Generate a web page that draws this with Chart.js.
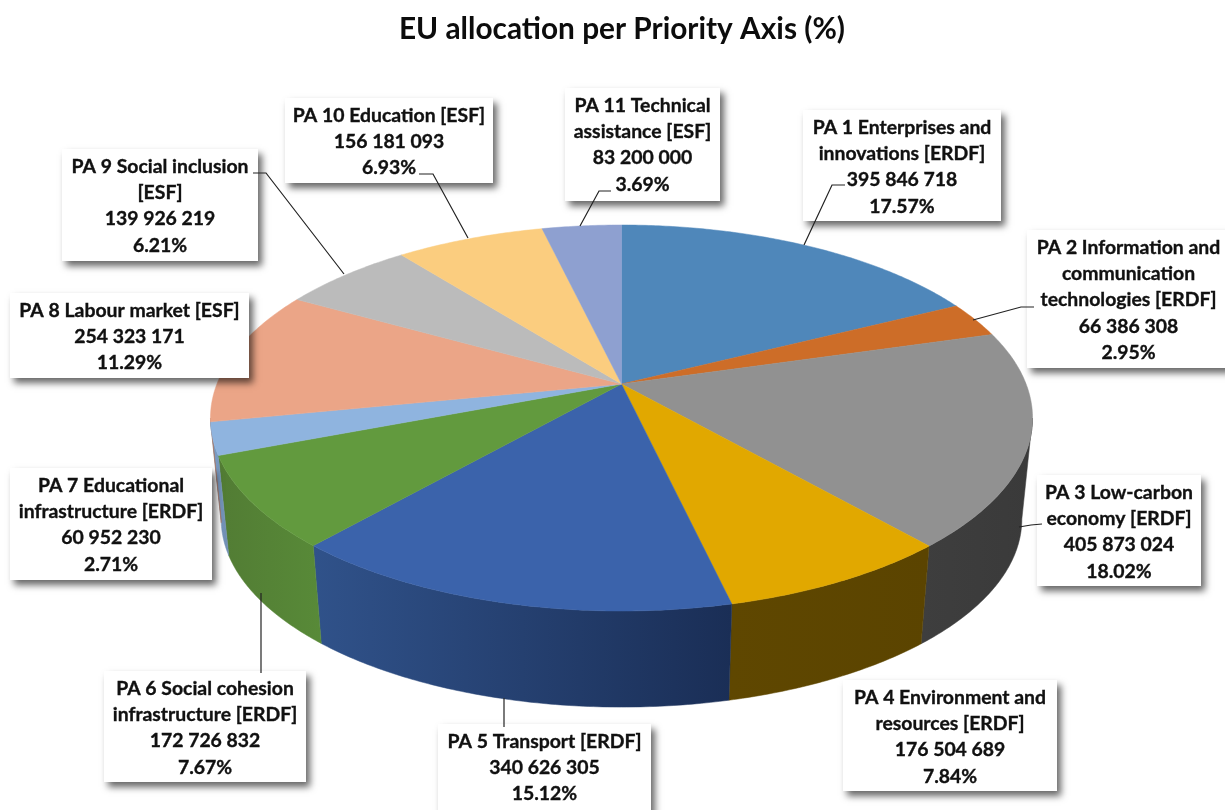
<!DOCTYPE html>
<html>
<head>
<meta charset="utf-8">
<title>EU allocation per Priority Axis</title>
<script src="https://cdn.jsdelivr.net/npm/chart.js@4.4.0/dist/chart.umd.min.js"></script>
<style>
  html, body { margin: 0; padding: 0; background: #fff; }
  canvas { display: block; }
</style>
</head>
<body>
<canvas id="pie" width="1225" height="810"></canvas>
<script>
'use strict';

const CHART_TITLE = 'EU allocation per Priority Axis (%)';

// Data
const categories = [
  'PA 1 Enterprises and innovations [ERDF]',
  'PA 2 Information and communication technologies [ERDF]',
  'PA 3 Low-carbon economy [ERDF]',
  'PA 4 Environment and resources [ERDF]',
  'PA 5 Transport [ERDF]',
  'PA 6 Social cohesion infrastructure [ERDF]',
  'PA 7 Educational infrastructure [ERDF]',
  'PA 8 Labour market [ESF]',
  'PA 9 Social inclusion [ESF]',
  'PA 10 Education [ESF]',
  'PA 11 Technical assistance [ESF]',
];
const amounts = [395846718, 66386308, 405873024, 176504689, 340626305, 172726832, 60952230, 254323171, 139926219, 156181093, 83200000];
const percents = ['17.57%', '2.95%', '18.02%', '7.84%', '15.12%', '7.67%', '2.71%', '11.29%', '6.21%', '6.93%', '3.69%'];

// Where each category name wraps in its label box
const wrapped = [
  ['PA 1 Enterprises and', 'innovations [ERDF]'],
  ['PA 2 Information and', 'communication', 'technologies [ERDF]'],
  ['PA 3 Low-carbon', 'economy [ERDF]'],
  ['PA 4 Environment and', 'resources [ERDF]'],
  ['PA 5 Transport [ERDF]'],
  ['PA 6 Social cohesion', 'infrastructure [ERDF]'],
  ['PA 7 Educational', 'infrastructure [ERDF]'],
  ['PA 8 Labour market [ESF]'],
  ['PA 9 Social inclusion', '[ESF]'],
  ['PA 10 Education [ESF]'],
  ['PA 11 Technical', 'assistance [ESF]'],
];

// Colours
const topColors  = ['#4F87BA', '#CD6D28', '#919191', '#E1A800', '#3B63AB', '#629A3E', '#8FB4DF', '#EBA587', '#BBBBBB', '#FBCD7F', '#8EA0D0'];
const wallLeft   = ['#3A6489', '#8F4C1C', '#3E3E3E', '#5F4700', '#30528A', '#527C34', '#7E9FC6', '#A87560', '#858585', '#B39059', '#6A7799'];
const wallRight  = ['#3A6489', '#8F4C1C', '#3A3A3A', '#5B4400', '#1A2E56', '#588A38', '#6F8DB2', '#A87560', '#858585', '#B39059', '#6A7799'];

// Label boxes: x, y, width, height
const boxes = [
  [803, 110, 198, 111],
  [1027, 230, 203, 138],
  [1037, 475, 164, 111],
  [843, 680, 214, 111],
  [438, 724, 213, 90],
  [104, 671, 202, 111],
  [10, 468, 202, 112],
  [10, 293, 239, 85],
  [62, 149, 196, 112],
  [285, 98, 208, 85],
  [565, 88, 155, 113],
];
// Leader lines
const leaders = [
  [[845, 185], [832, 185], [804, 245]],
  [[1034, 307], [1021, 307], [973, 320]],
  [[1042, 524], [1031, 525], [1019, 527]],
  null,
  [[504, 727], [504, 698]],
  [[261, 673], [261, 593]],
  null,
  null,
  [[253, 173], [266, 173], [344, 274]],
  [[419, 174], [433, 174], [468, 238]],
  [[611, 191], [599, 191], [580, 226]],
];

const LABEL_FONT = 'bold 19.4px Lato';
const LINE_H = 26.3;

// Perspective of the tilted disc
const CX = 621.5, CY = 384, RX = 404.6, RY = 187, PERSP = 0.1762;
const LOWER_Y = 486, LOWER_SCALE = 0.974;

function project(angle, lower) {
  const w = 1 - PERSP * Math.sin(angle);
  const s = lower ? LOWER_SCALE : 1;
  return {
    x: CX + s * RX * Math.cos(angle) / w,
    y: (lower ? LOWER_Y : CY) + s * RY * Math.sin(angle) / w,
  };
}

function rimAngles(from, to) {
  const steps = Math.max(2, Math.ceil((to - from) / 0.01));
  const out = [];
  for (let i = 0; i <= steps; i++) out.push(from + (to - from) * i / steps);
  return out;
}

function formatAmount(v) {
  return String(v).replace(/\B(?=(\d{3})+$)/g, ' ');
}

function drawWall(ctx, arc, i) {
  // only the rim part that faces the viewer, between the two silhouette tangents
  const tangent = Math.asin(PERSP);
  const from = Math.max(arc.startAngle, tangent);
  const to = Math.min(arc.endAngle, Math.PI - tangent);
  if (to <= from) return;

  const angles = rimAngles(from, to);
  const upper = angles.map(a => project(a, false));
  const lower = angles.map(a => project(a, true)).reverse();
  const xs = upper.concat(lower).map(p => p.x);
  const grad = ctx.createLinearGradient(Math.min(...xs), 0, Math.max(...xs), 0);
  grad.addColorStop(0, wallLeft[i]);
  grad.addColorStop(1, wallRight[i]);

  ctx.beginPath();
  upper.concat(lower).forEach((p, k) => k ? ctx.lineTo(p.x, p.y) : ctx.moveTo(p.x, p.y));
  ctx.closePath();
  ctx.fillStyle = grad;
  ctx.strokeStyle = grad;
  ctx.lineWidth = 0.5;
  ctx.fill();
  ctx.stroke();
}

function drawTop(ctx, arc, i) {
  ctx.beginPath();
  ctx.moveTo(CX, CY);
  rimAngles(arc.startAngle, arc.endAngle).forEach(a => {
    const p = project(a, false);
    ctx.lineTo(p.x, p.y);
  });
  ctx.closePath();
  ctx.fillStyle = topColors[i];
  ctx.strokeStyle = topColors[i];
  ctx.lineWidth = 0.5;
  ctx.fill();
  ctx.stroke();
}

// The library lays the slices out; this plugin paints them tilted
const tiltedPie = {
  id: 'tiltedPie',
  beforeDatasetsDraw(chart) {
    const ctx = chart.ctx;
    const arcs = chart.getDatasetMeta(0).data;
    ctx.save();
    arcs.forEach((arc, i) => drawWall(ctx, arc, i));
    arcs.forEach((arc, i) => drawTop(ctx, arc, i));
    ctx.restore();
    return false;
  },
  afterDraw(chart) {
    const ctx = chart.ctx;
    ctx.save();
    categories.forEach((c, i) => {
      const b = boxes[i];
      ctx.save();
      ctx.shadowColor = 'rgba(0,0,0,0.6)';
      ctx.shadowBlur = 7;
      ctx.shadowOffsetX = 4;
      ctx.shadowOffsetY = 5;
      ctx.fillStyle = '#fff';
      ctx.fillRect(b[0], b[1], b[2], b[3]);
      ctx.restore();
    });
    ctx.strokeStyle = '#222';
    ctx.lineWidth = 1.2;
    leaders.forEach(pts => {
      if (!pts) return;
      ctx.beginPath();
      pts.forEach((p, k) => k ? ctx.lineTo(p[0], p[1]) : ctx.moveTo(p[0], p[1]));
      ctx.stroke();
    });
    ctx.font = LABEL_FONT;
    ctx.fillStyle = '#111';
    ctx.strokeStyle = '#111';
    ctx.lineWidth = 0.35;
    ctx.textAlign = 'center';
    ctx.textBaseline = 'middle';
    categories.forEach((c, i) => {
      const b = boxes[i];
      const lines = wrapped[i].concat([formatAmount(amounts[i]), percents[i]]);
      const midX = i === 1 ? 1128.5 : b[0] + b[2] / 2;
      const firstY = b[1] + 17.5;
      lines.forEach((t, k) => {
        ctx.fillText(t, midX, firstY + k * LINE_H);
        ctx.strokeText(t, midX, firstY + k * LINE_H);
      });
    });
    ctx.restore();
  },
};

new Chart(document.getElementById('pie'), {
  type: 'pie',
  data: {
    labels: categories,
    datasets: [{ data: amounts, backgroundColor: topColors, borderWidth: 0 }],
  },
  options: {
    responsive: false,
    animation: false,
    layout: { padding: { top: 12, left: 19 } },
    plugins: {
      legend: { display: false },
      tooltip: { enabled: false },
      title: {
        display: true,
        text: CHART_TITLE,
        color: '#0c0c0c',
        font: { family: 'Lato', size: 29.8, weight: 'bold' },
        padding: 0,
      },
    },
  },
  plugins: [tiltedPie],
});
</script>
</body>
</html>
